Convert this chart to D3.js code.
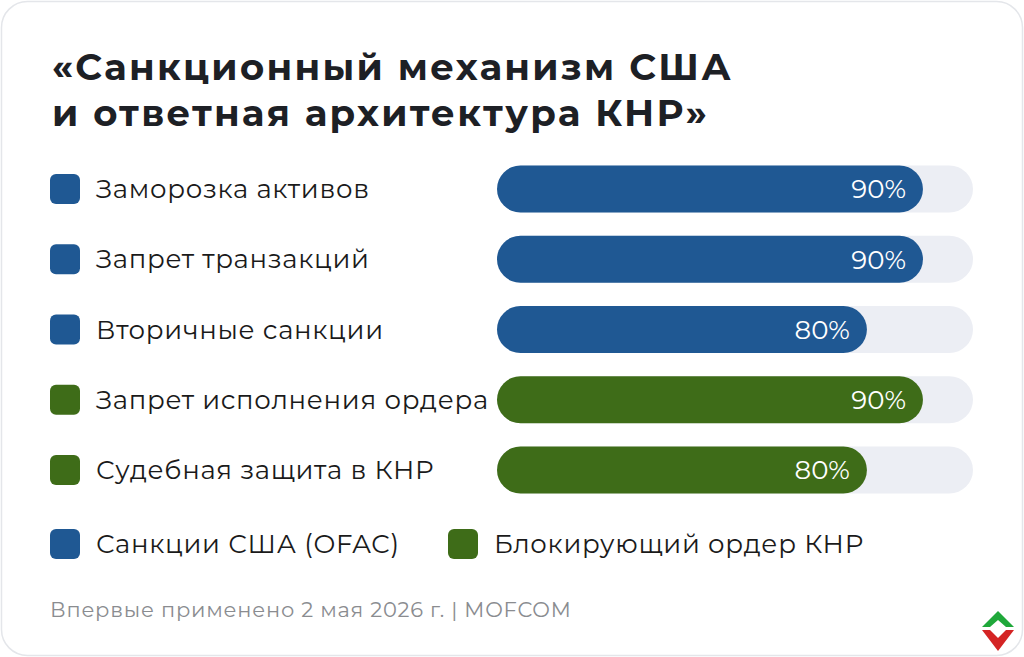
<!DOCTYPE html>
<html>
<head>
<meta charset="utf-8">
<script src="https://cdn.jsdelivr.net/npm/d3@7"></script>
<style>
  html, body { margin: 0; padding: 0; background: #ffffff; }
  svg { display: block; font-family: "Montserrat", "Inter", "Noto Sans", sans-serif; }
</style>
</head>
<body>
<div id="chart"></div>
<script>
// data
var categories = ["Заморозка активов", "Запрет транзакций", "Вторичные санкции", "Запрет исполнения ордера", "Судебная защита в КНР"];
var values = [90, 90, 80, 90, 80];
var groups = ["us", "us", "us", "cn", "cn"];
var legendLabels = ["Санкции США (OFAC)", "Блокирующий ордер КНР"];
var titleLines = ["«Санкционный механизм США", "и ответная архитектура КНР»"];
var footnote = "Впервые применено 2 мая 2026 г. | MOFCOM";

var W = 1024, H = 657;
var colors = { us: "#1f5893", cn: "#3e6c18" };

var svg = d3.select("#chart").append("svg")
  .attr("width", W)
  .attr("height", H);

// card
svg.append("rect")
  .attr("x", 1.5).attr("y", 1.5)
  .attr("width", W - 3).attr("height", H - 3)
  .attr("rx", 26)
  .attr("fill", "#ffffff")
  .attr("stroke", "#e4e6ea")
  .attr("stroke-width", 1.5);

// title, one text per line
svg.selectAll("text.title")
  .data(titleLines)
  .enter()
  .append("text")
    .attr("class", "title")
    .attr("x", 52)
    .attr("y", function(d, i) { return 80 + i * 46; })
    .attr("fill", "#1d2025")
    .attr("font-size", 37)
    .attr("font-weight", 700)
    .attr("letter-spacing", 2.3)
    .text(function(d) { return d; });

// scales
var y = d3.scalePoint().domain(categories).range([189, 470]);
var trackX = 497, trackW = 476, barH = 47;
var x = d3.scaleLinear().domain([14, 100]).range([0, 482]);

var rows = svg.selectAll("g.row")
  .data(categories)
  .enter()
  .append("g")
  .attr("class", "row")
  .attr("transform", function(d) { return "translate(0," + y(d) + ")"; });

rows.append("rect")
  .attr("x", 50).attr("y", -15)
  .attr("width", 30).attr("height", 30)
  .attr("rx", 6)
  .attr("fill", function(d, i) { return colors[groups[i]]; });

rows.append("text")
  .attr("x", 96)
  .attr("dy", "0.35em")
  .attr("font-size", 26)
  .attr("letter-spacing", 0.7)
  .attr("fill", "#1a1a1a")
  .text(function(d) { return d; });

rows.append("rect")
  .attr("x", trackX).attr("y", -barH / 2)
  .attr("width", trackW).attr("height", barH)
  .attr("rx", barH / 2)
  .attr("fill", "#eceef4");

rows.append("rect")
  .attr("x", trackX).attr("y", -barH / 2)
  .attr("width", function(d, i) { return x(values[i]); })
  .attr("height", barH)
  .attr("rx", barH / 2)
  .attr("fill", function(d, i) { return colors[groups[i]]; });

rows.append("text")
  .attr("x", function(d, i) { return trackX + x(values[i]) - 17; })
  .attr("dy", "0.36em")
  .attr("text-anchor", "end")
  .attr("font-size", 26)
  .attr("fill", "#ffffff")
  .text(function(d, i) { return values[i] + "%"; });

// legend
var legendX = [50, 448];
var legend = svg.selectAll("g.legend")
  .data(legendLabels)
  .enter()
  .append("g")
  .attr("class", "legend")
  .attr("transform", function(d, i) { return "translate(" + legendX[i] + ",544)"; });

legend.append("rect")
  .attr("x", 0).attr("y", -15)
  .attr("width", 30).attr("height", 30)
  .attr("rx", 6)
  .attr("fill", function(d, i) { return i == 0 ? colors.us : colors.cn; });

legend.append("text")
  .attr("x", 46)
  .attr("dy", "0.35em")
  .attr("font-size", 26)
  .attr("letter-spacing", 0.7)
  .attr("fill", "#1a1a1a")
  .text(function(d) { return d; });

// footnote
svg.append("text")
  .attr("x", 50).attr("y", 617)
  .attr("font-size", 21)
  .attr("letter-spacing", 0.75)
  .attr("fill", "#8a8c90")
  .text(footnote);

// logo
var logo = svg.append("g").attr("transform", "translate(998,630)");
logo.append("path")
  .attr("d", "M0,-19 L16,-3 L8,-3 L0,-10 L-8,-3 L-16,-3 Z")
  .attr("fill", "#1fa83a");
logo.append("path")
  .attr("d", "M0,21 L16,0 L8,0 L0,8 L-8,0 L-16,0 Z")
  .attr("fill", "#d42424");
</script>
</body>
</html>
